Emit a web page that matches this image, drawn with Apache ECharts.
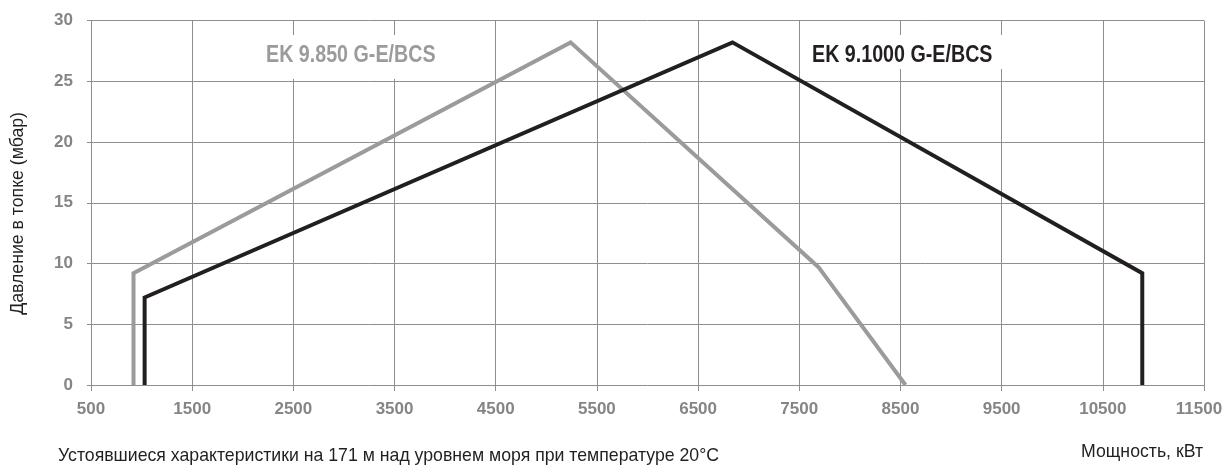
<!DOCTYPE html>
<html>
<head>
<meta charset="utf-8">
<script src="https://cdn.jsdelivr.net/npm/echarts@6/dist/echarts.min.js"></script>
<style>
html,body{margin:0;padding:0;background:#fff;}
#chart{width:1225px;height:465px;}
</style>
</head>
<body>
<div id="chart"></div>
<script>
// Data (power kW, furnace pressure mbar)
var seriesNames = ['EK 9.850 G-E/BCS', 'EK 9.1000 G-E/BCS'];
var ek850 = [[920, 0], [920, 9.2], [5240, 28.2], [7690, 9.7], [8550, 0]];
var ek1000 = [[1030, 0], [1030, 7.2], [6840, 28.2], [10890, 9.2], [10890, 0]];
var xTicks = [500, 1500, 2500, 3500, 4500, 5500, 6500, 7500, 8500, 9500, 10500, 11500];
var yTicks = [0, 5, 10, 15, 20, 25, 30];
var yAxisTitle = 'Давление в топке (мбар)';
var xAxisTitle = 'Мощность, кВт';
var footnote = 'Устоявшиеся характеристики на 171 м над уровнем моря при температуре 20°C';

var gridColor = '#8e8e8e';
var tickFont = {color: '#858585', fontFamily: 'Liberation Sans', fontWeight: 'bold', fontSize: 17};
var labelFont = 'bold 24px "Liberation Sans", Arial, sans-serif';
var textFont = '17.7px "Liberation Sans", Arial, sans-serif';
var xMax = xTicks[xTicks.length - 1];

var chart = echarts.init(document.getElementById('chart'), null, {renderer: 'canvas'});
chart.setOption({
  animation: false,
  backgroundColor: '#fff',
  grid: {left: 91, right: 21, top: 20.5, bottom: 80, containLabel: false, outerBoundsMode: 'none'},
  xAxis: {
    type: 'value',
    min: xTicks[0], max: xMax, interval: xTicks[1] - xTicks[0],
    axisLine: {show: false},
    axisTick: {show: true, length: 6, lineStyle: {color: gridColor, width: 1}},
    splitLine: {show: true, lineStyle: {color: gridColor, width: 1}},
    axisLabel: Object.assign({
      margin: 16, showMaxLabel: true, showMinLabel: true,
      formatter: function (v) { return v === xMax ? '{last|' + v + '}' : String(v); },
      rich: {last: Object.assign({padding: [0, 10, 0, 0]}, tickFont)}
    }, tickFont)
  },
  yAxis: {
    type: 'value',
    min: yTicks[0], max: yTicks[yTicks.length - 1], interval: yTicks[1] - yTicks[0],
    axisLine: {show: false},
    axisTick: {show: true, length: 4, lineStyle: {color: gridColor, width: 1}},
    splitLine: {show: true, lineStyle: {color: gridColor, width: 1}},
    axisLabel: Object.assign({margin: 18, formatter: function (v) { return String(v); }}, tickFont)
  },
  series: [
    {name: seriesNames[0], type: 'line', data: ek850, showSymbol: false, symbol: 'none',
     lineStyle: {color: '#9b9b9b', width: 4, join: 'miter', cap: 'butt'}, z: 3},
    {name: seriesNames[1], type: 'line', data: ek1000, showSymbol: false, symbol: 'none',
     lineStyle: {color: '#231f20', width: 4, join: 'miter', cap: 'butt'}, z: 4}
  ],
  graphic: [
    {type: 'rect', left: 255, top: 35, shape: {width: 195, height: 44}, style: {fill: '#fff'}, z: 10},
    {type: 'text', x: 266, y: 43, scaleX: 0.82, z: 11,
     style: {text: seriesNames[0], fill: '#9b9b9b', font: labelFont}},
    {type: 'rect', left: 803, top: 35, shape: {width: 202, height: 34}, style: {fill: '#fff'}, z: 10},
    {type: 'text', x: 812, y: 43, scaleX: 0.82, z: 11,
     style: {text: seriesNames[1], fill: '#231f20', font: labelFont}},
    {type: 'text', left: 58, top: 447, z: 11,
     style: {text: footnote, fill: '#231f20', font: textFont}},
    {type: 'text', right: 22, top: 443, z: 11,
     style: {text: xAxisTitle, fill: '#231f20', font: textFont}},
    {type: 'text', left: 9, top: 112, rotation: Math.PI / 2, z: 11,
     style: {text: yAxisTitle, fill: '#231f20', font: textFont}}
  ]
});
</script>
</body>
</html>
